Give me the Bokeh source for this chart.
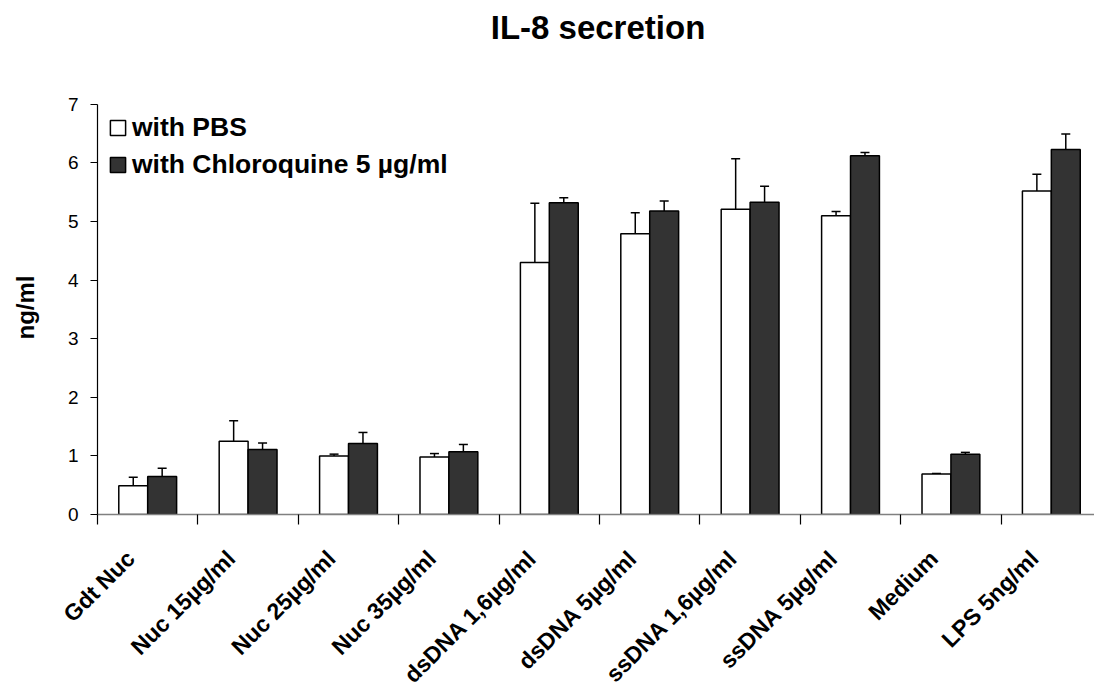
import math
from bokeh.plotting import figure
from bokeh.models import Range1d, FixedTicker, Whisker, TeeHead, ColumnDataSource, Legend, LegendItem
from bokeh.core.properties import value
from bokeh.embed import file_html
from bokeh.resources import INLINE

categories = ["Gdt Nuc", "Nuc 15µg/ml", "Nuc 25µg/ml", "Nuc 35µg/ml",
              "dsDNA 1,6µg/ml", "dsDNA 5µg/ml", "ssDNA 1,6µg/ml",
              "ssDNA 5µg/ml", "Medium", "LPS 5ng/ml"]
pbs = [0.49, 1.25, 1.00, 0.98, 4.30, 4.79, 5.21, 5.10, 0.69, 5.52]
pbs_err = [0.145, 0.35, 0.03, 0.06, 1.01, 0.36, 0.86, 0.07, 0.01, 0.285]
chl = [0.65, 1.11, 1.21, 1.07, 5.32, 5.18, 5.33, 6.12, 1.03, 6.23]
chl_err = [0.14, 0.11, 0.19, 0.125, 0.085, 0.17, 0.27, 0.057, 0.03, 0.265]
series_names = ["with PBS", "with Chloroquine 5 µg/ml"]
y_ticks = [0, 1, 2, 3, 4, 5, 6, 7]
title_text = "IL-8 secretion"
y_label = "ng/ml"

FONT = "Liberation Sans"
BW = 0.288
LABEL_SHIFT = 0.17
Y_MAX = 7
PX_PER_UNIT = 411 / 7.0
Y_TOP = Y_MAX + 104 / PX_PER_UNIT      # headroom above the plot for the title
TITLE_Y = Y_MAX + (104 - 27) / PX_PER_UNIT
X_MAX = 9.93

n = len(categories)
centers = [i + 0.5 for i in range(n)]
x_pbs = [c - BW / 2 for c in centers]
x_chl = [c + BW / 2 for c in centers]
label_pos = [c - LABEL_SHIFT for c in centers]

src_pbs = ColumnDataSource(dict(x=x_pbs, top=pbs, up=[v + e for v, e in zip(pbs, pbs_err)]))
src_chl = ColumnDataSource(dict(x=x_chl, top=chl, up=[v + e for v, e in zip(chl, chl_err)]))
src_title = ColumnDataSource(dict(x=[X_MAX / 2 + 0.02], y=[TITLE_Y], text=[title_text]))

p = figure(width=1094, height=700, x_range=Range1d(0, X_MAX), y_range=Range1d(0, Y_TOP),
           output_backend="svg", toolbar_location=None,
           min_border_left=97, min_border_right=0, min_border_top=0, min_border_bottom=185)
p.outline_line_color = None
p.xgrid.visible = False
p.ygrid.visible = False
p.background_fill_color = "white"

# title
p.text(x="x", y="y", text="text", source=src_title, text_align="center",
       text_baseline="middle", text_font=value(FONT), text_font_size=value("33px"),
       text_font_style="bold", text_color="black")

r1 = p.vbar(x="x", top="top", width=BW, bottom=0, source=src_pbs,
            fill_color="white", line_color="black", line_width=1.5)
r2 = p.vbar(x="x", top="top", width=BW, bottom=0, source=src_chl,
            fill_color="#333333", line_color="black", line_width=1.5)

for src in (src_pbs, src_chl):
    w = Whisker(base="x", lower="top", upper="up", source=src,
                line_color="black", line_width=1.5,
                upper_head=TeeHead(size=9, line_color="black", line_width=1.5),
                lower_head=None)
    p.add_layout(w)

# y axis
p.yaxis.ticker = FixedTicker(ticks=y_ticks)
p.yaxis.bounds = (0, Y_MAX)
p.yaxis.minor_tick_line_color = None
p.yaxis.major_tick_in = 0
p.yaxis.major_tick_out = 7
p.yaxis.major_label_standoff = 12
p.yaxis.major_label_text_font = FONT
p.yaxis.major_label_text_font_size = "19px"
p.yaxis.major_label_text_color = "black"
p.yaxis.axis_line_color = "black"
p.yaxis.axis_line_width = 1.2
# non-breaking spaces after the label keep it centred on the 0-7 part of the axis
p.yaxis.axis_label = y_label + "\u00a0" * 15
p.yaxis.axis_label_text_font = FONT
p.yaxis.axis_label_text_font_size = "24px"
p.yaxis.axis_label_text_font_style = "bold"
p.yaxis.axis_label_text_color = "black"
p.yaxis.axis_label_standoff = 26

# x axis: rotated labels near category centres, tick marks at boundaries (minor ticks)
p.xaxis.ticker = FixedTicker(ticks=label_pos, minor_ticks=list(range(n + 1)))
p.xaxis.major_label_overrides = {c: lab for c, lab in zip(label_pos, categories)}
p.xaxis.major_tick_in = 0
p.xaxis.major_tick_out = 0
p.xaxis.minor_tick_in = 0
p.xaxis.minor_tick_out = 10
p.xaxis.minor_tick_line_color = "black"
p.xaxis.minor_tick_line_width = 1.2
p.xaxis.axis_line_color = "#808080"
p.xaxis.axis_line_width = 1.5
p.xaxis.major_label_orientation = math.pi / 4
p.xaxis.major_label_standoff = 30
p.xaxis.major_label_text_font = FONT
p.xaxis.major_label_text_font_size = "23px"
p.xaxis.major_label_text_font_style = "bold"
p.xaxis.major_label_text_color = "black"

legend = Legend(items=[LegendItem(label=series_names[0], renderers=[r1]),
                       LegendItem(label=series_names[1], renderers=[r2])],
                location=(11, 334))
legend.margin = 0
legend.padding = 0
legend.border_line_color = None
legend.background_fill_alpha = 0
legend.glyph_width = 19
legend.glyph_height = 19
legend.label_height = 20
legend.spacing = 6
legend.label_standoff = 5
legend.label_text_font = FONT
legend.label_text_font_size = "26.5px"
legend.label_text_font_style = "bold"
legend.label_text_color = "black"
p.add_layout(legend)

open("out.html", "w").write(file_html(p, INLINE))
